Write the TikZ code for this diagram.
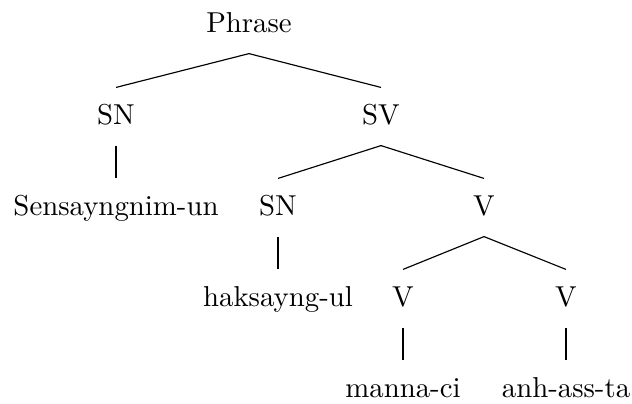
\documentclass[tikz,border=0pt]{standalone}
\begin{document}
\begin{tikzpicture}[x=0.3472pt,y=-0.3472pt,
  lab/.style={anchor=base,text height=7pt,text depth=1.8pt,inner ysep=5.5pt,inner xsep=0pt},
  edge/.style={line width=0.4pt}]
\useasboundingbox (0,0) rectangle (632,403);
\node[lab] (P) at (249,32) {Phrase};
\node[lab] (SN) at (116,124) {SN};
\node[lab] (SV) at (381,124) {SV};
\node[lab] (Sen) at (116,215) {Sensayngnim-un};
\node[lab] (SNb) at (278,215) {SN};
\node[lab] (V) at (484,215) {V};
\node[lab] (hak) at (278,306) {haksayng-ul};
\node[lab] (Va) at (403,306) {V};
\node[lab] (Vb) at (566,306) {V};
\node[lab] (man) at (403,397) {manna-ci};
\node[lab] (anh) at (566,397) {anh-ass-ta};
\draw[edge] (SN.north) -- (P.south) -- (SV.north);
\draw[edge] (SN.south) -- (Sen.north);
\draw[edge] (SNb.north) -- (SV.south) -- (V.north);
\draw[edge] (SNb.south) -- (hak.north);
\draw[edge] (Va.north) -- (V.south) -- (Vb.north);
\draw[edge] (Va.south) -- (man.north);
\draw[edge] (Vb.south) -- (anh.north);
\end{tikzpicture}
\end{document}
